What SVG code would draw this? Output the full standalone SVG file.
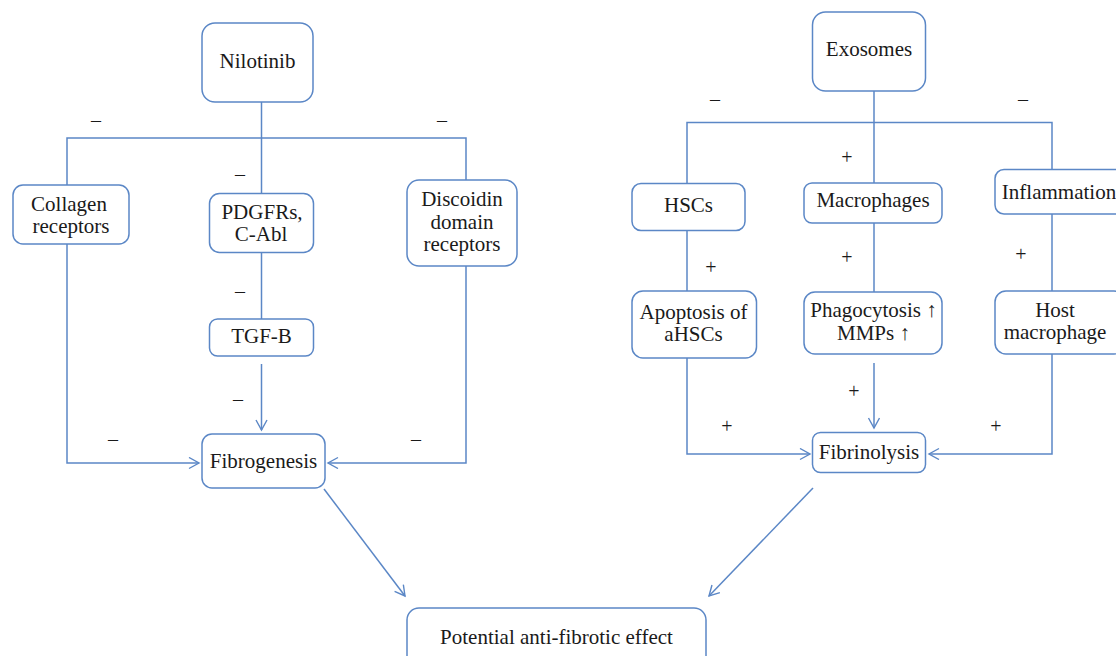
<svg xmlns="http://www.w3.org/2000/svg" width="1116" height="656" viewBox="0 0 1116 656">
<defs>
<marker id="arr" markerUnits="userSpaceOnUse" markerWidth="14" markerHeight="14" refX="11" refY="6" orient="auto">
<path d="M1,0.5 L11,6 L1,11.5" fill="none" stroke="#5b87c6" stroke-width="1.4"/>
</marker>
<style>
.box{fill:#ffffff;stroke:#5b87c6;stroke-width:1.5}
.ln{fill:none;stroke:#5b87c6;stroke-width:1.5}
.t{font-family:"Liberation Serif","Times New Roman",serif;font-size:21px;fill:#1a1a1a;text-anchor:middle}
.s{font-family:"Liberation Serif","Times New Roman",serif;font-size:20px;fill:#1a1a1a;text-anchor:middle}
</style>
</defs>
<rect width="1116" height="656" fill="#ffffff"/>
<g id="connectors">
<path class="ln" d="M261.5,102 V193"/>
<path class="ln" d="M67,185 V138 H466 V180"/>
<path class="ln" d="M261.5,253 V319"/>
<path class="ln" d="M261.5,364 V430" marker-end="url(#arr)"/>
<path class="ln" d="M67,244 V463 H199" marker-end="url(#arr)"/>
<path class="ln" d="M466,266 V463 H328" marker-end="url(#arr)"/>
<path class="ln" d="M324,489 L405,596" marker-end="url(#arr)"/>
<path class="ln" d="M813,488 L709,596" marker-end="url(#arr)"/>
<path class="ln" d="M874,91 V183"/>
<path class="ln" d="M687,183 V122.5 H1052 V169"/>
<path class="ln" d="M687,231 V291"/>
<path class="ln" d="M874,223 V292"/>
<path class="ln" d="M1052,214 V291"/>
<path class="ln" d="M874,363 V428" marker-end="url(#arr)"/>
<path class="ln" d="M687,358 V454 H810" marker-end="url(#arr)"/>
<path class="ln" d="M1052,354 V454 H929" marker-end="url(#arr)"/>
<g class="s">
<text x="96" y="127">–</text>
<text x="442" y="127">–</text>
<text x="240" y="181">–</text>
<text x="240" y="298">–</text>
<text x="238" y="406">–</text>
<text x="113" y="446">–</text>
<text x="416" y="446">–</text>
<text x="715" y="106">–</text>
<text x="1023" y="106">–</text>
<text x="847" y="164">+</text>
<text x="847" y="264">+</text>
<text x="711" y="274">+</text>
<text x="1021" y="261">+</text>
<text x="854" y="398">+</text>
<text x="727" y="433">+</text>
<text x="996" y="433">+</text>
</g>
</g>
<g id="nilotinib"><rect class="box" x="202" y="23" width="111" height="79" rx="13"/><text class="t" x="257.5" y="68">Nilotinib</text></g>
<g id="collagen"><rect class="box" x="13" y="185" width="116" height="59" rx="10"/><text class="t" x="69" y="211">Collagen</text><text class="t" x="71" y="233">receptors</text></g>
<g id="pdgfrs"><rect class="box" x="209.5" y="193.5" width="104" height="59" rx="10"/><text class="t" x="262" y="219">PDGFRs,</text><text class="t" x="261" y="241">C-Abl</text></g>
<g id="discoidin"><rect class="box" x="407" y="180" width="110" height="86" rx="12"/><text class="t" x="462" y="206">Discoidin</text><text class="t" x="462" y="228.5">domain</text><text class="t" x="462" y="251">receptors</text></g>
<g id="tgfb"><rect class="box" x="209.5" y="319" width="104" height="37" rx="8"/><text class="t" x="261.5" y="343">TGF-B</text></g>
<g id="fibrogenesis"><rect class="box" x="202" y="434" width="123" height="54" rx="10"/><text class="t" x="263.5" y="468">Fibrogenesis</text></g>
<g id="potential"><rect class="box" x="407" y="608" width="299" height="60" rx="12"/><text class="t" x="556.5" y="644">Potential anti-fibrotic effect</text></g>
<g id="exosomes"><rect class="box" x="812.5" y="12" width="113" height="79" rx="13"/><text class="t" x="869" y="56">Exosomes</text></g>
<g id="hscs"><rect class="box" x="632" y="183.5" width="113" height="47" rx="9"/><text class="t" x="688.5" y="212">HSCs</text></g>
<g id="macrophages"><rect class="box" x="804" y="183" width="138" height="40" rx="8"/><text class="t" x="873" y="207">Macrophages</text></g>
<g id="inflammation"><rect class="box" x="995" y="169.5" width="130" height="44.5" rx="9"/><text class="t" x="1059" y="198.5">Inflammation</text></g>
<g id="apoptosis"><rect class="box" x="632" y="291" width="124.5" height="67" rx="11"/><text class="t" x="693.5" y="318.5">Apoptosis of</text><text class="t" x="693.5" y="341">aHSCs</text></g>
<g id="phagocytosis"><rect class="box" x="804" y="292" width="138" height="62" rx="11"/><text class="t" x="873.5" y="317">Phagocytosis ↑</text><text class="t" x="873.5" y="340">MMPs ↑</text></g>
<g id="hostmacrophage"><rect class="box" x="995" y="291" width="130" height="63" rx="11"/><text class="t" x="1055" y="316.5">Host</text><text class="t" x="1055" y="339">macrophage</text></g>
<g id="fibrinolysis"><rect class="box" x="812.5" y="432.5" width="113" height="40" rx="8"/><text class="t" x="869" y="458.5">Fibrinolysis</text></g>
</svg>
